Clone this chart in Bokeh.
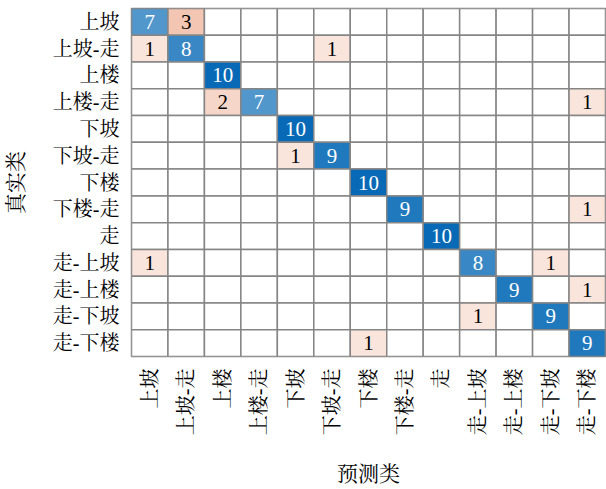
from bokeh.plotting import figure
from bokeh.models import ColumnDataSource, FactorRange
from bokeh.core.properties import value
from bokeh.embed import file_html
from bokeh.resources import INLINE
import math

labels = ["上坡", "上坡-走", "上楼", "上楼-走", "下坡", "下坡-走", "下楼",
          "下楼-走", "走", "走-上坡", "走-上楼", "走-下坡", "走-下楼"]

# rows = true class, columns = predicted class
counts = [
    [7, 3, 0, 0, 0, 0, 0, 0, 0, 0, 0, 0, 0],
    [1, 8, 0, 0, 0, 1, 0, 0, 0, 0, 0, 0, 0],
    [0, 0, 10, 0, 0, 0, 0, 0, 0, 0, 0, 0, 0],
    [0, 0, 2, 7, 0, 0, 0, 0, 0, 0, 0, 0, 1],
    [0, 0, 0, 0, 10, 0, 0, 0, 0, 0, 0, 0, 0],
    [0, 0, 0, 0, 1, 9, 0, 0, 0, 0, 0, 0, 0],
    [0, 0, 0, 0, 0, 0, 10, 0, 0, 0, 0, 0, 0],
    [0, 0, 0, 0, 0, 0, 0, 9, 0, 0, 0, 0, 1],
    [0, 0, 0, 0, 0, 0, 0, 0, 10, 0, 0, 0, 0],
    [1, 0, 0, 0, 0, 0, 0, 0, 0, 8, 0, 1, 0],
    [0, 0, 0, 0, 0, 0, 0, 0, 0, 0, 9, 0, 1],
    [0, 0, 0, 0, 0, 0, 0, 0, 0, 1, 0, 9, 0],
    [0, 0, 0, 0, 0, 0, 1, 0, 0, 0, 0, 0, 9],
]

DIAG = (8, 106, 182)
OFF = (217, 83, 25)
vmax = 10


def blend(base, a):
    a = max(0.0, min(1.0, a))
    r, g, b = (int(round(255 * (1 - a) + c * a)) for c in base)
    return "#%02x%02x%02x" % (r, g, b)


xs, ys, fills, txt, tcol, tx, ty = [], [], [], [], [], [], []
for i, t in enumerate(labels):
    for j, pcl in enumerate(labels):
        v = counts[i][j]
        xs.append(pcl)
        ys.append(t)
        if v == 0:
            fills.append("#ffffff")
        elif i == j:
            fills.append(blend(DIAG, v / vmax))
        else:
            fills.append(blend(OFF, 0.06 + 0.09 * v))
        if v:
            txt.append(str(v))
            tcol.append("#ffffff" if i == j else "#000000")
            tx.append(pcl)
            ty.append(t)

FONT = "Liberation Serif, Noto Serif CJK SC, Noto Sans CJK SC, serif"

p = figure(width=606, height=489, output_backend="svg", toolbar_location=None,
           x_range=FactorRange(*labels), y_range=FactorRange(*labels[::-1]),
           min_border_left=10, min_border_right=1, min_border_top=8, min_border_bottom=10)

src = ColumnDataSource(dict(x=xs, y=ys, fill=fills))
p.rect(x="x", y="y", width=1, height=1, source=src, fill_color="fill",
       line_color="#858585", line_width=1.5)

tsrc = ColumnDataSource(dict(x=tx, y=ty, t=txt, c=tcol))
p.text(x="x", y="y", text="t", source=tsrc, text_color="c",
       text_align="center", text_baseline="middle",
       text_font=value("Liberation Serif"), text_font_size="21px")

p.outline_line_color = "#858585"
p.outline_line_width = 1.5
p.grid.visible = False

for ax in (p.xaxis[0], p.yaxis[0]):
    ax.axis_line_color = None
    ax.major_tick_line_color = None
    ax.minor_tick_line_color = None
    ax.major_label_text_font = FONT
    ax.major_label_text_font_size = "20px"
    ax.major_label_text_color = "#000000"
    ax.axis_label_text_font = FONT
    ax.axis_label_text_font_size = "21px"
    ax.axis_label_text_font_style = "normal"
    ax.axis_label_text_color = "#000000"
    ax.major_label_standoff = 6

p.xaxis.major_label_orientation = math.pi / 2
p.xaxis.axis_label = "预测类"
p.yaxis.axis_label = "真实类"
p.xaxis.axis_label_standoff = 24
p.yaxis.axis_label_standoff = 22

open("out.html", "w").write(file_html(p, INLINE))
